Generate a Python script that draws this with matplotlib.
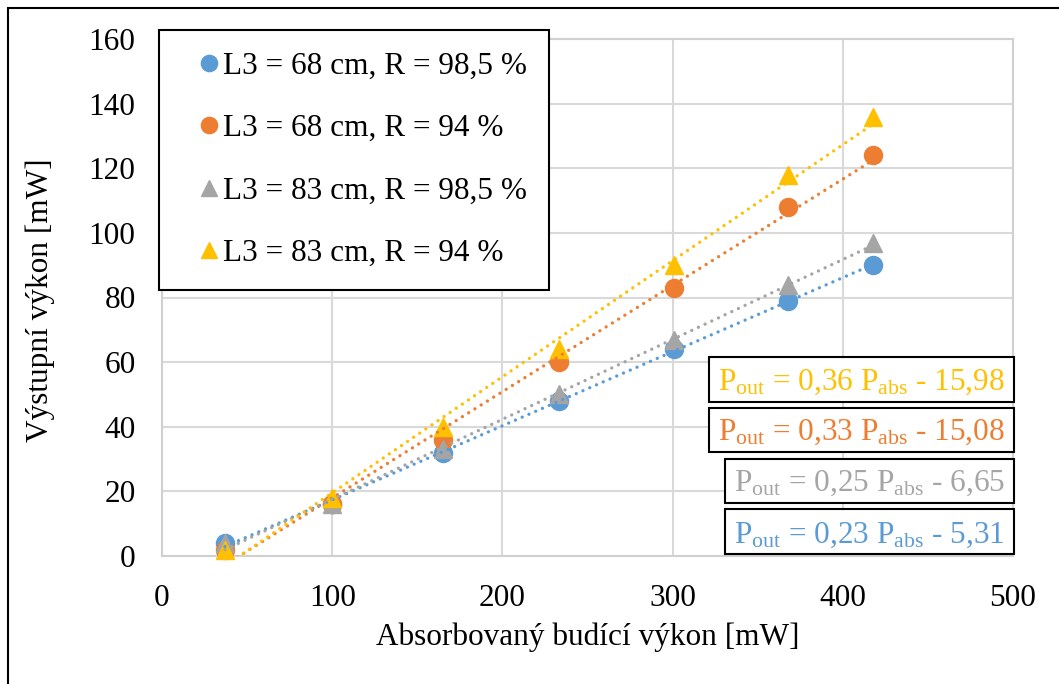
import numpy as np
import matplotlib
matplotlib.use('Agg')
import matplotlib.pyplot as plt
from matplotlib.patches import Rectangle

plt.rcParams['font.family'] = ['Liberation Serif', 'DejaVu Serif']
plt.rcParams['mathtext.fontset'] = 'custom'
plt.rcParams['mathtext.rm'] = 'Liberation Serif'

# ── data ──
p_abs = [37, 100, 165, 233, 301, 368, 418]
out_68_985 = [4, 16, 32, 48, 64, 79, 90]
out_68_94 = [2, 16, 36, 60, 83, 108, 124]
out_83_985 = [4, 16, 33, 50, 67, 84, 97]
out_83_94 = [2, 18, 40, 64, 90, 118, 136]

labels = ['L3 = 68 cm, R = 98,5 %', 'L3 = 68 cm, R = 94 %',
          'L3 = 83 cm, R = 98,5 %', 'L3 = 83 cm, R = 94 %']
colors = ['#5B9BD5', '#ED7D31', '#A5A5A5', '#FFC000']
markers = ['o', 'o', '^', '^']
equations = ['0,23 $\\mathregular{P_{abs}}$ - 5,31', '0,33 $\\mathregular{P_{abs}}$ - 15,08',
             '0,25 $\\mathregular{P_{abs}}$ - 6,65', '0,36 $\\mathregular{P_{abs}}$ - 15,98']

W, H = 1059, 684
fig = plt.figure(figsize=(W / 100, H / 100), dpi=100)
ax = fig.add_axes([162 / W, 1 - 556 / H, (1013 - 162) / W, (556 - 39) / H])

FS = 22.5
series = [out_68_985, out_68_94, out_83_985, out_83_94]
x = np.array(p_abs, dtype=float)
for ys, c, m, lab in zip(series, colors, markers, labels):
    ax.plot(x, ys, ls='none', marker=m, color=c, ms=13, label=lab,
            zorder=3, clip_on=False)
# linear trendlines (dotted), drawn over the markers
for ys, c in zip(series, colors):
    k, q = np.polyfit(x, ys, 1)
    xx = np.array([x.min(), x.max()])
    ax.plot(xx, k * xx + q, color=c, lw=2.4, dashes=(0.01, 2.2),
            dash_capstyle='round', zorder=4)

ax.set_xlim(0, 500)
ax.set_ylim(0, 160)
ax.set_xticks(range(0, 501, 100))
ax.set_yticks(range(0, 161, 20))
ax.grid(True, color='#D9D9D9', lw=1.5)
ax.set_axisbelow(True)
for s in ax.spines.values():
    s.set_color('#D0D0D0')
    s.set_linewidth(1.5)
ax.tick_params(length=0, labelsize=FS)
ax.tick_params(axis='y', pad=19)
ax.tick_params(axis='x', pad=20)

ax.set_xlabel('Absorbovaný budící výkon [mW]', fontsize=FS)
ax.set_ylabel('Výstupní výkon [mW]', fontsize=FS)
ax.xaxis.label.set_va('center')
ax.yaxis.label.set_va('center')
ax.xaxis.set_label_coords(0.5, (556 - 637) / 517)
ax.yaxis.set_label_coords((40 - 162) / 851, (556 - 300) / 517)

leg = ax.legend(loc='upper left', bbox_to_anchor=(159 / W, 1 - 30 / H),
                bbox_transform=fig.transFigure, borderaxespad=0,
                fontsize=FS, fancybox=False, edgecolor='black', framealpha=1,
                labelspacing=1.07, borderpad=0.7, handlelength=1.8,
                handletextpad=-0.45, markerscale=0.9)
leg.get_frame().set_linewidth(1.5)
leg.set_zorder(10)

# equation boxes (px): left, top, bottom, text baseline
boxes = [(725, 509, 554, 543), (709, 408, 452, 440),
         (725, 459, 503, 491), (709, 357, 402, 390)]
for (l, t, b, base), c, eq in zip(boxes, colors, equations):
    fig.add_artist(Rectangle((l / W, 1 - b / H), (1014 - l) / W, (b - t) / H,
                             transform=fig.transFigure, fc='white',
                             ec='black', lw=1.5, zorder=5))
    fig.text((l + 1014) / 2 / W, 1 - base / H,
             '$\\mathregular{P_{out}}$ = ' + eq, color=c, fontsize=FS,
             ha='center', va='baseline', zorder=6)

# outer chart border
fig.add_artist(Rectangle((8 / W, -0.05), 1.1, 1 - 8 / H + 0.05,
                         transform=fig.transFigure, fill=False,
                         ec='black', lw=1.5, zorder=0))

fig.savefig('out.png', dpi=100, facecolor='white')
